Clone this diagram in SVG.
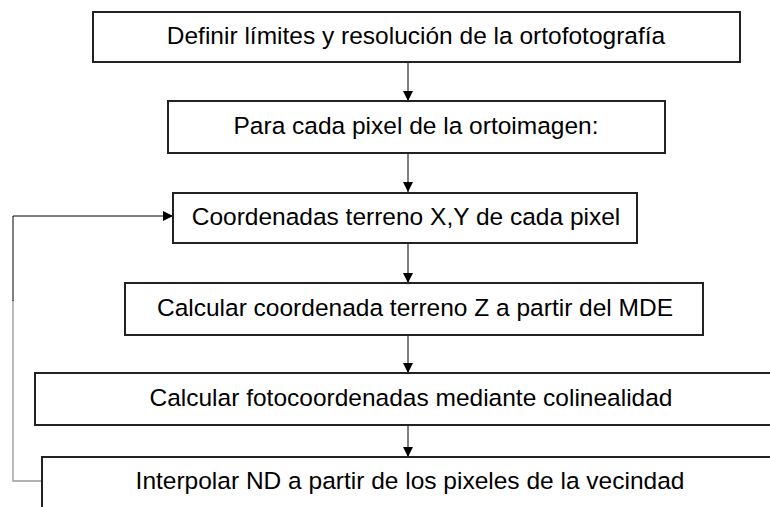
<svg xmlns="http://www.w3.org/2000/svg" width="770" height="507" viewBox="0 0 770 507">
<defs>
<style>
.box{fill:#fff;stroke:#222;stroke-width:2}
.t{font-family:"Liberation Sans",Arial,sans-serif;font-size:24.5px;fill:#000;text-anchor:middle}
.c{fill:none;stroke:#000;stroke-width:1}
.g{fill:none;stroke:#999;stroke-width:1.3}
</style>
<marker id="ah" viewBox="0 0 10 10" refX="10" refY="5" markerWidth="10" markerHeight="10" markerUnits="userSpaceOnUse" orient="auto">
<path d="M0,0 L10,5 L0,10 Z" fill="#000"/>
</marker>
</defs>
<rect width="770" height="507" fill="#fff"/>
<g id="connectors">
<line class="c" x1="408" y1="62" x2="408" y2="101" marker-end="url(#ah)"/>
<line class="c" x1="408" y1="153" x2="408" y2="192" marker-end="url(#ah)"/>
<line class="c" x1="408" y1="243" x2="408" y2="283" marker-end="url(#ah)"/>
<line class="c" x1="408" y1="335" x2="408" y2="373" marker-end="url(#ah)"/>
<line class="c" x1="408" y1="425" x2="408" y2="457" marker-end="url(#ah)"/>
<path class="g" d="M42,481 H13 V300"/>
<path class="c" d="M13,301 V216 H173" marker-end="url(#ah)"/>
</g>
<g id="n1"><rect class="box" x="93" y="12" width="647" height="50"/><text class="t" x="416" y="44">Definir límites y resolución de la ortofotografía</text></g>
<g id="n2"><rect class="box" x="168" y="101" width="497" height="52"/><text class="t" x="416" y="134">Para cada pixel de la ortoimagen:</text></g>
<g id="n3"><rect class="box" x="173" y="193" width="464" height="50"/><text class="t" x="406" y="225">Coordenadas terreno X,Y de cada pixel</text></g>
<g id="n4"><rect class="box" x="125" y="283" width="578" height="52"/><text class="t" x="415" y="316">Calcular coordenada terreno Z a partir del MDE</text></g>
<g id="n5"><rect class="box" x="35" y="373" width="740" height="52"/><text class="t" x="411" y="406">Calcular fotocoordenadas mediante colinealidad</text></g>
<g id="n6"><rect class="box" x="42" y="457" width="740" height="55"/><text class="t" x="410" y="489">Interpolar ND a partir de los pixeles de la vecindad</text></g>
</svg>
